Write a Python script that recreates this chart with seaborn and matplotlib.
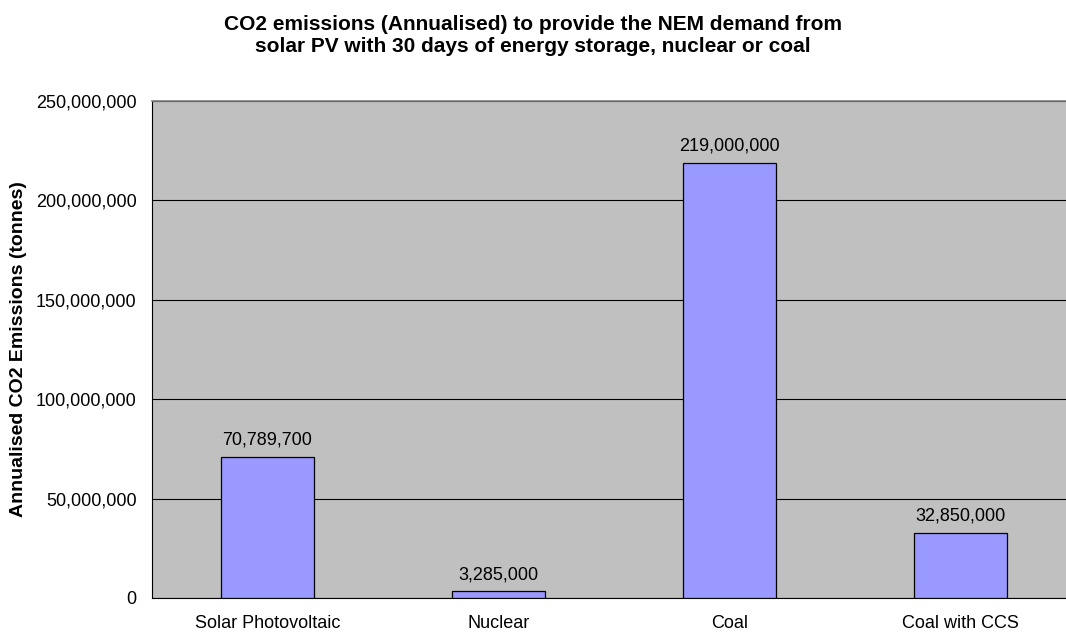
import numpy as np
import pandas as pd
import matplotlib
matplotlib.use("Agg")
import matplotlib.pyplot as plt
import seaborn as sns
from matplotlib.ticker import FuncFormatter, FixedLocator

# ================= DATA =================
sources = ["Solar Photovoltaic", "Nuclear", "Coal", "Coal with CCS"]
emissions = [70789700, 3285000, 219000000, 32850000]

df = pd.DataFrame({"source": sources, "emissions": emissions})

# ================= STYLE =================
sns.set_style("white")
plt.rcParams["font.family"] = ["Liberation Sans", "DejaVu Sans"]
plt.rcParams["text.color"] = "black"
plt.rcParams["axes.labelcolor"] = "black"
plt.rcParams["xtick.color"] = "black"
plt.rcParams["ytick.color"] = "black"

fig = plt.figure(figsize=(10.66, 6.35), dpi=100)
# plot area runs a little past the right edge, like the excel export
ax = fig.add_axes([0.1426, 0.0583, 0.8668, 0.7827])
ax.set_facecolor("#C0C0C0")

sns.barplot(data=df, x="source", y="emissions", color="#9999FF",
            edgecolor="black", linewidth=0.9, width=0.40, saturation=1, ax=ax, zorder=3)

ax.set_ylim(0, 250000000)
ax.set_xlim(-0.5, len(sources) - 0.5)
ax.set_yticks(np.arange(0, 250000001, 50000000))
ax.yaxis.set_major_formatter(FuncFormatter(lambda v, p: f"{int(v):,}"))
ax.grid(axis="y", color="black", linewidth=0.8, zorder=1)
ax.set_axisbelow(True)

# category boundary ticks
ax.xaxis.set_minor_locator(FixedLocator(np.arange(-0.5, len(sources), 1.0)))
ax.tick_params(axis="x", which="major", length=0, pad=12, labelsize=13)
ax.tick_params(axis="x", which="minor", length=5, width=0.8, color="black", direction="out")
ax.tick_params(axis="y", length=5, width=0.8, color="black", direction="out", labelsize=13, pad=6)

for side in ["left", "bottom"]:
    ax.spines[side].set_color("black")
    ax.spines[side].set_linewidth(0.8)
for side in ["top", "right"]:
    ax.spines[side].set_color("#808080")
    ax.spines[side].set_linewidth(1.2)

# value labels
for i, v in enumerate(emissions):
    ax.annotate(f"{v:,}", (i, v), xytext=(0, 6), textcoords="offset points",
                ha="center", va="bottom", fontsize=13, color="black")

ax.set_xlabel("")
ax.set_ylabel("Annualised CO2 Emissions (tonnes)", fontsize=14, fontweight="bold")
ax.yaxis.set_label_coords(-0.1426 / 0.8668 + 27 / 924, 0.5)

fig.suptitle("CO2 emissions (Annualised) to provide the NEM demand from\n"
             "solar PV with 30 days of energy storage, nuclear or coal",
             x=0.5, y=0.977, fontsize=15, fontweight="bold", va="top", linespacing=1.25)

plt.savefig("out.png", dpi=100)
